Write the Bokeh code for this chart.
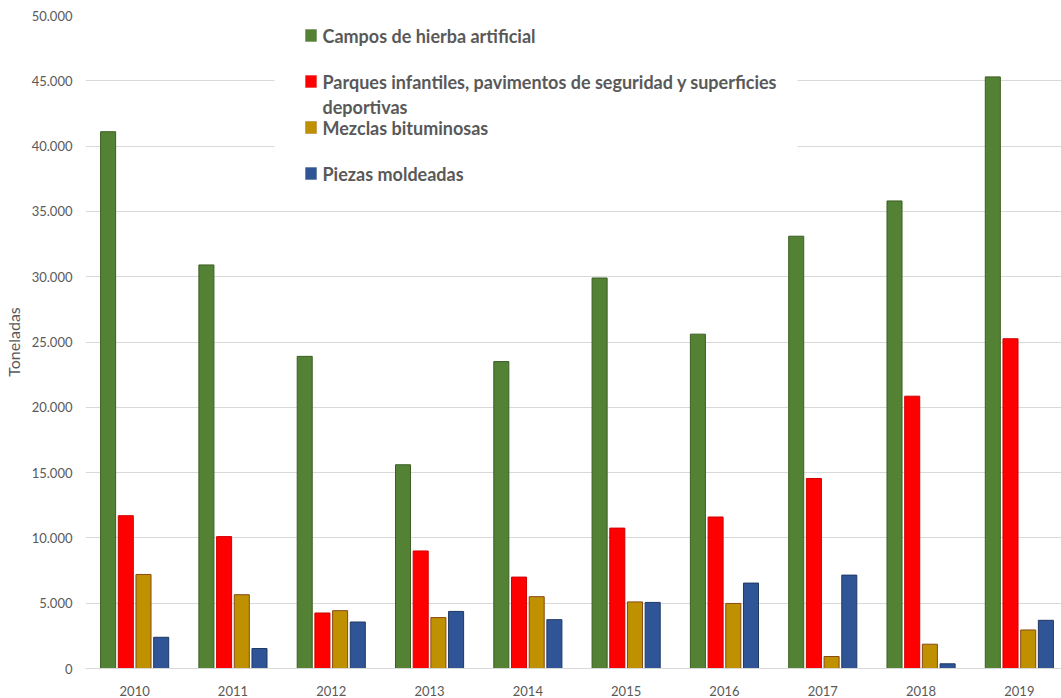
from bokeh.plotting import figure
from bokeh.models import ColumnDataSource, Range1d, FixedTicker, BoxAnnotation, Label
from bokeh.transform import dodge
from bokeh.embed import file_html
from bokeh.resources import INLINE

years = ["2010", "2011", "2012", "2013", "2014", "2015", "2016", "2017", "2018", "2019"]
campos = [41100, 30900, 23900, 15600, 23500, 29900, 25600, 33100, 35800, 45300]
parques = [11700, 10100, 4250, 9000, 7000, 10750, 11600, 14550, 20850, 25250]
mezclas = [7200, 5650, 4430, 3900, 5500, 5100, 4980, 920, 1860, 2950]
piezas = [2390, 1530, 3560, 4370, 3740, 5060, 6540, 7150, 360, 3690]

series_names = ["Campos de hierba artificial",
                "Parques infantiles, pavimentos de seguridad y superficies",
                "Mezclas bituminosas",
                "Piezas moldeadas"]
series_keys = ["campos", "parques", "mezclas", "piezas"]
fills = ["#548235", "#FF0000", "#BF9000", "#2F5597"]
borders = ["#3B5E24", "#D00000", "#8A4A14", "#1F3864"]
offsets = [-0.27, -0.09, 0.09, 0.27]

xs = list(range(len(years)))
source = ColumnDataSource(dict(x=xs, campos=campos, parques=parques, mezclas=mezclas, piezas=piezas))

W, H = 1061, 698
LEFT, TOP, BOTTOM = 85, 15, 29
frame_w = W - LEFT
step = 98.3

p = figure(width=W, height=H, output_backend="svg", toolbar_location=None,
           x_range=Range1d(-0.5, -0.5 + frame_w / step), y_range=Range1d(0, 50000),
           min_border_left=LEFT, min_border_right=0, min_border_top=TOP, min_border_bottom=BOTTOM)
p.outline_line_color = None
p.background_fill_color = "white"
p.border_fill_color = "white"

for key, off, fc, lc in zip(series_keys, offsets, fills, borders):
    p.vbar(x=dodge("x", off), top=key, bottom=0, width=0.153, source=source,
           fill_color=fc, line_color=lc, line_width=1)

# axes
p.xaxis.ticker = FixedTicker(ticks=xs)
p.xaxis.major_label_overrides = {i: y for i, y in enumerate(years)}
p.xaxis.axis_line_color = "#D9D9D9"
p.xaxis.major_tick_line_color = None
p.xaxis.minor_tick_line_color = None
p.xaxis.major_label_text_font = "Lato"
p.xaxis.major_label_text_font_size = "13px"
p.xaxis.major_label_text_color = "#595959"
p.xaxis.major_label_standoff = 11
p.xgrid.grid_line_color = None

yt = list(range(0, 50001, 5000))
p.yaxis.ticker = FixedTicker(ticks=yt)
p.yaxis.major_label_overrides = {v: ("{:,}".format(v).replace(",", ".")) for v in yt}
p.yaxis.axis_line_color = None
p.yaxis.major_tick_line_color = None
p.yaxis.minor_tick_line_color = None
p.yaxis.major_tick_out = 0
p.yaxis.major_label_standoff = 13
p.yaxis.major_label_text_font = "Lato"
p.yaxis.major_label_text_font_size = "13px"
p.yaxis.major_label_text_color = "#595959"
p.yaxis.axis_label = "Toneladas"
p.yaxis.axis_label_text_font = "Lato"
p.yaxis.axis_label_text_font_size = "16px"
p.yaxis.axis_label_text_font_style = "normal"
p.yaxis.axis_label_text_color = "#595959"
p.yaxis.axis_label_standoff = 6
p.ygrid.grid_line_color = "#D9D9D9"
p.ygrid.grid_line_width = 1

# legend (screen units, relative to frame bottom-left)
FL, FB = LEFT, H - BOTTOM
def sx(X):
    return X - FL
def sy(Y):
    return FB - Y

p.add_layout(BoxAnnotation(left=sx(274), right=sx(797), top=sy(16), bottom=sy(210),
                           left_units="screen", right_units="screen",
                           top_units="screen", bottom_units="screen",
                           fill_color="white", fill_alpha=1.0, line_color=None))

rows = [36, 82, 128, 174]
for name, cy, fc, lc in zip(series_names, rows, fills, borders):
    p.add_layout(BoxAnnotation(left=sx(305), right=sx(316), top=sy(cy - 6), bottom=sy(cy + 6),
                               left_units="screen", right_units="screen",
                               top_units="screen", bottom_units="screen",
                               fill_color=fc, fill_alpha=1.0, line_color=lc, line_width=1))
    p.add_layout(Label(x=sx(322), y=sy(cy), x_units="screen", y_units="screen", text=name,
                       text_font="Lato", text_font_style="bold", text_font_size="18px",
                       text_color="#595959", text_baseline="middle", text_align="left"))
p.add_layout(Label(x=sx(322), y=sy(107), x_units="screen", y_units="screen", text="deportivas",
                   text_font="Lato", text_font_style="bold", text_font_size="18px",
                   text_color="#595959", text_baseline="middle", text_align="left"))

open("out.html", "w").write(file_html(p, INLINE))
